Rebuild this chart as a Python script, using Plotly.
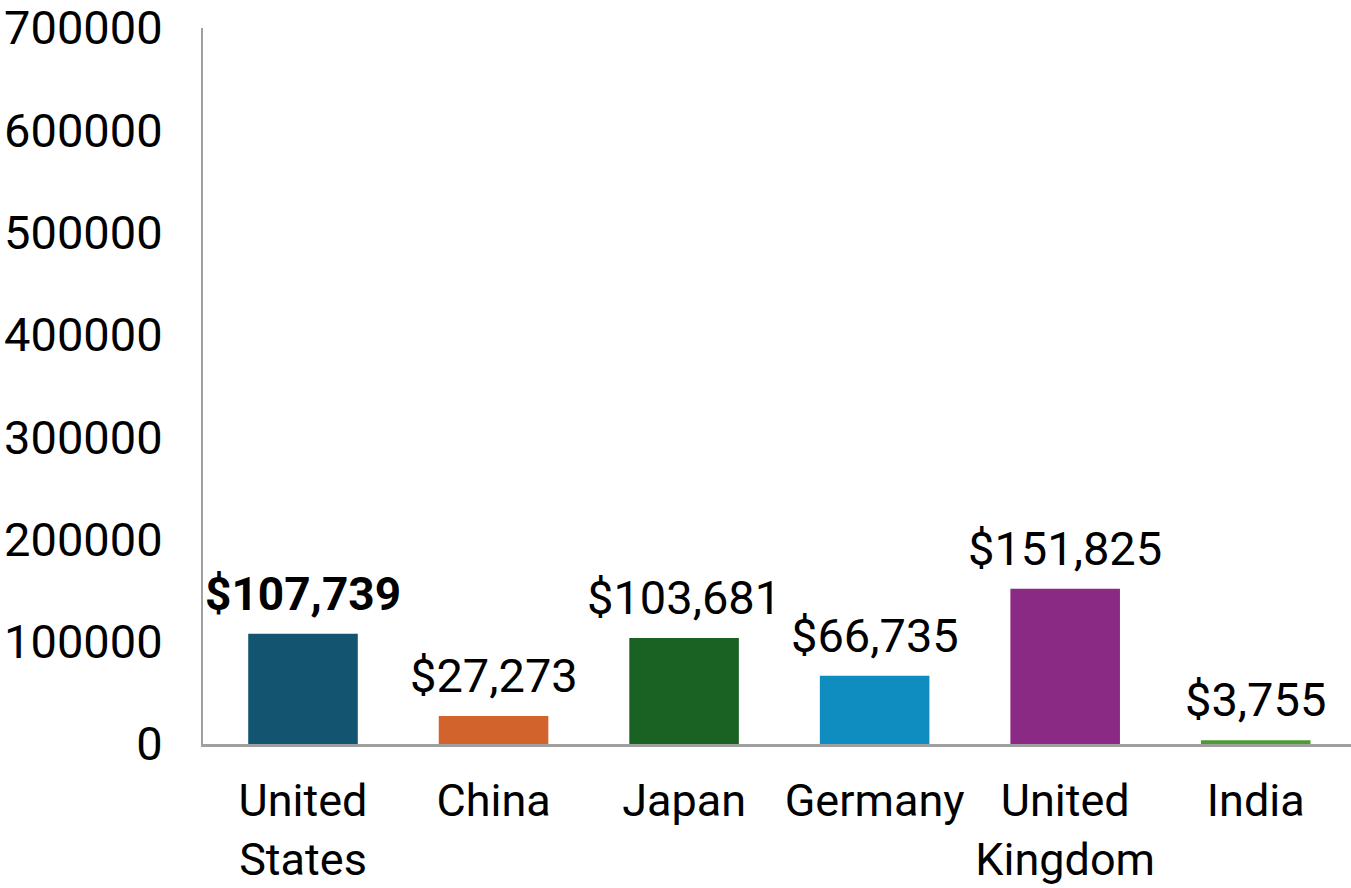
import plotly.graph_objects as go

countries = ["United<br>States", "China", "Japan", "Germany", "United<br>Kingdom", "India"]
values = [107739, 27273, 103681, 66735, 151825, 3755]
colors = ["#135470", "#D2632C", "#1A6124", "#0F8CC0", "#8B2A84", "#4A9D2F"]
y_ticks = [0, 100000, 200000, 300000, 400000, 500000, 600000, 700000]

FONT = "Roboto, Liberation Sans, Arial, sans-serif"
SIZE = 47

fig = go.Figure(
    go.Bar(
        x=countries,
        y=values,
        marker=dict(color=colors, line=dict(width=0)),
        width=0.575,
        hoverinfo="skip",
    )
)

# value labels above each bar; the first one is bold
for i, (c, v) in enumerate(zip(countries, values)):
    txt = f"${v:,}"
    size = SIZE
    if i == 0:
        txt = f"<b>{txt}</b>"
        size = 46
    fig.add_annotation(
        x=c, y=v, text=txt, showarrow=False,
        yanchor="bottom", yshift=11,
        font=dict(family=FONT, size=size, color="#000000"),
    )

fig.update_layout(
    width=1351, height=888,
    margin=dict(l=203, r=0, t=28, b=144),
    plot_bgcolor="white", paper_bgcolor="white",
    showlegend=False,
    bargap=0.425,
    font=dict(family=FONT, size=SIZE, color="#000000"),
)
fig.update_yaxes(
    range=[0, 700000], tickvals=y_ticks, ticktext=[str(t) for t in y_ticks],
    showgrid=False, zeroline=False, automargin=False,
    showline=True, linecolor="#A0A0A0", linewidth=2,
    ticks="", ticklabelstandoff=29,
    tickfont=dict(family=FONT, size=SIZE, color="#000000"),
)
fig.update_xaxes(
    showgrid=False, zeroline=False, automargin=False,
    showline=True, linecolor="#A0A0A0", linewidth=3,
    ticks="", ticklabelstandoff=15, tickangle=0,
    tickfont=dict(family=FONT, size=45, color="#000000"),
)

fig.write_html("out.html")
